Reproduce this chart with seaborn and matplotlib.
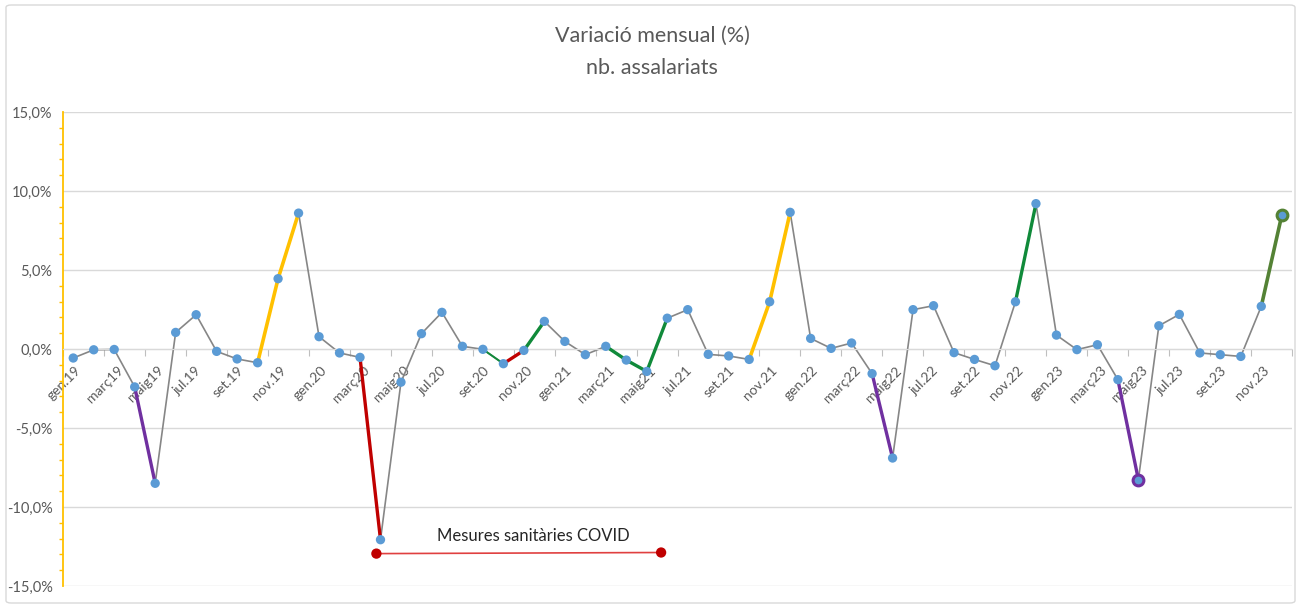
import numpy as np
import pandas as pd
import matplotlib
matplotlib.use("Agg")
import matplotlib.pyplot as plt
import matplotlib.ticker as mticker
from matplotlib.patches import FancyBboxPatch
import seaborn as sns

# categories (months) and monthly variation (%) of wage earners
mesos = ["gen.", "febr.", "març", "abr.", "maig", "juny", "jul.", "ag.", "set.", "oct.", "nov.", "des."]
anys = ["19", "20", "21", "22", "23"]
categories = [m + a for a in anys for m in mesos]

variacio = [
    -0.57, -0.05, -0.03, -2.40, -8.50, 1.05, 2.17, -0.15, -0.63, -0.87, 4.45, 8.60,
    0.78, -0.25, -0.53, -12.07, -2.10, 0.97, 2.32, 0.17, -0.02, -0.93, -0.09, 1.75,
    0.48, -0.36, 0.17, -0.70, -1.42, 1.95, 2.49, -0.34, -0.44, -0.66, 2.99, 8.65,
    0.67, 0.04, 0.38, -1.56, -6.90, 2.49, 2.74, -0.23, -0.66, -1.06, 2.99, 9.20,
    0.88, -0.04, 0.27, -1.94, -8.27, 1.47, 2.19, -0.25, -0.36, -0.47, 2.70, 8.46,
]

tick_labels = categories[::2]

# highlighted stretches: (from, to, group)
trams = [
    ("abr.19", "maig19", "lila"),
    ("oct.19", "des.19", "groc"),
    ("març20", "abr.20", "vermell"),
    ("set.20", "oct.20", "verd_fi"),
    ("oct.20", "nov.20", "vermell"),
    ("nov.20", "des.20", "verd"),
    ("març21", "juny21", "verd"),
    ("oct.21", "des.21", "groc"),
    ("abr.22", "maig22", "lila"),
    ("nov.22", "des.22", "verd"),
    ("abr.23", "maig23", "lila"),
    ("nov.23", "des.23", "oliva"),
]
destacats = [("maig23", "lila"), ("des.23", "oliva")]

# COVID measures bracket (category positions and level in %)
covid_x = [14.8, 28.7]
covid_y = [-12.95, -12.88]
covid_text = "Mesures sanitàries COVID"

colors = {"lila": "#7030A0", "groc": "#FFC000", "vermell": "#C00000",
          "verd": "#108A3A", "verd_fi": "#108A3A", "oliva": "#548235"}
gruix = {"lila": 2.4, "groc": 2.6, "vermell": 2.4, "verd": 2.4, "verd_fi": 1.4, "oliva": 2.6}

df = pd.DataFrame({"mes": categories, "pos": np.arange(len(categories)), "variacio": variacio})
idx = {m: i for i, m in enumerate(categories)}

sns.set_style("white")
plt.rcParams["font.family"] = ["Lato", "DejaVu Sans"]

fig = plt.figure(figsize=(13.04, 6.07), dpi=100)
ax = fig.add_axes([63 / 1304, 1 - 586 / 607, (1292 - 63) / 1304, (586 - 112) / 607])

sns.lineplot(data=df, x="pos", y="variacio", color="#868686", lw=1.2, ax=ax, zorder=2)
for a, b, g in trams:
    sub = df.iloc[idx[a]:idx[b] + 1]
    sns.lineplot(data=sub, x="pos", y="variacio", color=colors[g], lw=gruix[g], ax=ax, zorder=3)

sns.scatterplot(data=df, x="pos", y="variacio", color="#5B9BD5", s=45, edgecolor="none", ax=ax, zorder=5)
for m, g in destacats:
    sub = df[df["mes"] == m]
    sns.scatterplot(data=sub, x="pos", y="variacio", color="#5B9BD5", s=60,
                    edgecolor=colors[g], linewidth=2.2, ax=ax, zorder=6)

# COVID period annotation
cov = pd.DataFrame({"pos": covid_x, "variacio": covid_y})
sns.lineplot(data=cov, x="pos", y="variacio", color="#E04040", lw=1.2, ax=ax, zorder=4)
sns.scatterplot(data=cov, x="pos", y="variacio", color="#C00000", s=55, edgecolor="none", ax=ax, zorder=5)
ax.text(sum(covid_x) / 2 + 0.7, max(covid_y) + 0.55, covid_text,
        ha="center", va="bottom", fontsize=12, color="#262626")

ax.set_xlim(-0.5, len(categories) - 0.5)
ax.set_ylim(-15, 15)
ax.set_xlabel("")
ax.set_ylabel("")

ax.yaxis.set_major_locator(mticker.MultipleLocator(5))
ax.yaxis.set_minor_locator(mticker.MultipleLocator(1))
ax.yaxis.set_major_formatter(mticker.FuncFormatter(lambda v, _: f"{v:.1f}".replace(".", ",") + "%"))
ax.tick_params(axis="y", which="major", direction="inout", length=6, width=1, color="#FFC000",
               labelsize=10.5, labelcolor="#595959", pad=4.5)
ax.tick_params(axis="y", which="minor", direction="out", length=3, width=1, color="#FFC000", left=True)
ax.grid(axis="y", which="major", color="#d9d9d9", lw=1)
ax.set_axisbelow(True)

# boundary ticks every two months, labels placed slightly left of the category centre
ax.set_xticks(np.arange(-0.5, len(categories), 2))
ax.set_xticklabels([])
ax.set_xticks(np.arange(0, len(categories), 2) - 0.45, minor=True)
ax.tick_params(axis="x", which="major", direction="out", length=5, color="#bfbfbf", bottom=True)
ax.tick_params(axis="x", which="minor", length=0, labelsize=10, labelcolor="#595959", pad=11,
               bottom=True, labelrotation=45)
ax.set_xticklabels(tick_labels, minor=True, rotation=45, ha="right", va="center",
                   rotation_mode="anchor")

for s in ["top", "right"]:
    ax.spines[s].set_visible(False)
ax.spines["left"].set_color("#FFC000")
ax.spines["left"].set_linewidth(1.3)
ax.spines["bottom"].set_position(("data", 0))
ax.spines["bottom"].set_color("#d9d9d9")

fig.text(0.5, 1 - 36 / 607, "Variació mensual (%)", ha="center", va="center", fontsize=15.5, color="#595959")
fig.text(0.5, 1 - 68 / 607, "nb. assalariats", ha="center", va="center", fontsize=15.5, color="#595959")

fig.patches.append(FancyBboxPatch((6 / 1304, 4 / 607), 1289 / 1304, 598 / 607,
                                  boxstyle="round,pad=0,rounding_size=0.004",
                                  transform=fig.transFigure, fill=False, ec="#d9d9d9", lw=1))

fig.savefig("out.png", dpi=100)
